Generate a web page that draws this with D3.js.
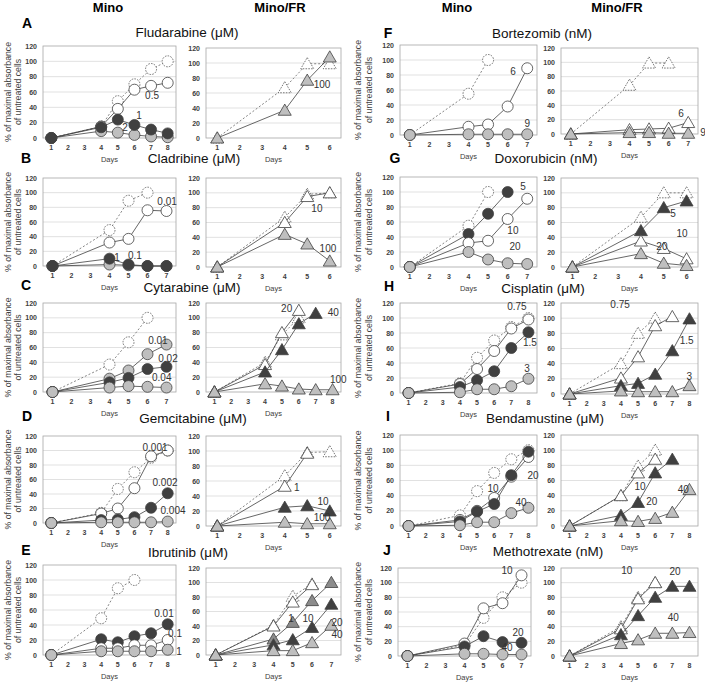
<!DOCTYPE html>
<html lang="en">
<head>
  <meta charset="UTF-8">
  <title>Drug response of Mino and Mino/FR cells</title>
  <script src="https://d3js.org/d3.v7.min.js"></script>
  <style>
      body { margin: 0; background: #fff; }
      svg { display: block; font-family: Arial, "Liberation Sans", sans-serif; }
      .grid line { stroke: #d9d9d9; stroke-width: 0.8px; }
      .frame { fill: none; stroke: #a6a6a6; stroke-width: 0.8px; }
      .tick-label { font-size: 7px; font-weight: bold; fill: #404040; }
      .days { font-size: 7.5px; fill: #404040; }
      .ytitle { font-size: 8.7px; fill: #404040; }
      .title { font-size: 13.5px; fill: #111; }
      .letter { font-size: 14px; font-weight: bold; fill: #000; }
      .header { font-size: 13px; font-weight: bold; fill: #000; }
      .dose { font-size: 10px; fill: #333; }
  </style>
</head>
<body>
<svg width="705" height="682"></svg>
<script>
  // days on which absorbance was measured
  const d8 = [1, 4, 5, 6, 7, 8];
  const d7 = [1, 4, 5, 6, 7];
  const d6 = [1, 4, 5, 6];
  const d5 = [1, 4, 5];

  // A  Fludarabine
  const fluMinoCtrl = [0, 15, 48, 70, 90, 100];
  const fluMino05 = [0, 15, 38, 63, 68, 72];
  const fluMino1 = [0, 14, 24, 17, 11, 6];
  const fluMino2 = [0, 9, 7, 4, 2, 1];
  const fluFrCtrl = [0, 67, 99, 99];
  const fluFr100 = [0, 37, 77, 108];

  // B  Cladribine
  const claMinoCtrl = [0, 49, 89, 100];
  const claMino001 = [0, 32, 37, 76, 75];
  const claMino01 = [0, 10, 2, 0, 0];
  const claMino1 = [0, 2, 1, 0, 0];
  const claFrCtrl = [0, 67, 98, 100];
  const claFr10 = [0, 60, 95, 100];
  const claFr100 = [0, 44, 31, 8];

  // C  Cytarabine
  const cytMinoCtrl = [0, 37, 67, 100];
  const cytMino001 = [0, 18, 29, 51, 64];
  const cytMino002 = [0, 13, 19, 31, 34];
  const cytMino004 = [0, 6, 8, 7, 6];
  const cytFrCtrl = [0, 40, 77, 100];
  const cytFr20 = [0, 37, 80, 110];
  const cytFr40 = [0, 27, 57, 92, 106];
  const cytFr100 = [0, 11, 8, 4, 3, 3];

  // D  Gemcitabine
  const gemMinoCtrl = [0, 14, 47, 70, 90, 100];
  const gemMino0001 = [0, 13, 20, 48, 92, 100];
  const gemMino0002 = [0, 4, 5, 8, 21, 41];
  const gemMino0004 = [0, 1, 1, 1, 1, 2];
  const gemFrCtrl = [0, 67, 98, 99];
  const gemFr1 = [0, 53, 97];
  const gemFr10 = [0, 25, 27, 20];
  const gemFr100 = [0, 5, 3, 3];

  // E  Ibrutinib
  const ibrMinoCtrl = [0, 49, 89, 100];
  const ibrMino001 = [0, 21, 17, 25, 29, 41];
  const ibrMino01 = [0, 9, 9, 13, 13, 20];
  const ibrMino1 = [0, 5, 5, 5, 5, 7];
  const ibrFrCtrl = [0, 41, 81, 98];
  const ibrFr1 = [0, 40, 73, 97];
  const ibrFr10 = [0, 22, 45, 75, 100];
  const ibrFr20 = [0, 14, 21, 38, 70];
  const ibrFr40 = [0, 6, 6, 17, 41];

  // F  Bortezomib
  const borMinoCtrl = [0, 55, 100];
  const borMino6 = [0, 11, 14, 38, 89];
  const borMino9 = [0, 1, 1, 1, 1];
  const borFrCtrl = [0, 68, 99, 99];
  const borFr6 = [0, 6, 7, 8, 16];
  const borFr9 = [0, 2, 2, 1, 1];

  // G  Doxorubicin
  const doxMinoCtrl = [0, 55, 100];
  const doxMino5 = [0, 44, 71, 100];
  const doxMino10 = [0, 32, 35, 64, 91];
  const doxMino20 = [0, 20, 10, 5, 4];
  const doxFrCtrl = [0, 67, 100, 100];
  const doxFr5 = [0, 49, 80, 89];
  const doxFr10 = [0, 35, 25, 11];
  const doxFr20 = [0, 18, 5, 2];

  // H  Cisplatin
  const cisMinoCtrl = [0, 13, 47, 70, 88, 100];
  const cisMino075 = [0, 12, 32, 56, 86, 98];
  const cisMino15 = [0, 8, 17, 29, 60, 81];
  const cisMino3 = [0, 1, 5, 5, 9, 19];
  const cisFrCtrl = [0, 40, 80, 100];
  const cisFr075 = [0, 21, 49, 90, 102];
  const cisFr15 = [0, 11, 14, 26, 57, 99];
  const cisFr3 = [0, 4, 3, 3, 3, 11];

  // I  Bendamustine
  const benMinoCtrl = [0, 14, 46, 70, 88, 100];
  const benMino10 = [0, 8, 20, 37, 65, 91];
  const benMino20 = [0, 6, 19, 29, 67, 98];
  const benMino40 = [0, 1, 5, 5, 17, 24];
  const benFrCtrl = [0, 40, 79, 100];
  const benFr10 = [0, 40, 70, 88];
  const benFr20 = [0, 14, 31, 70, 88];
  const benFr40 = [0, 7, 6, 10, 18, 48];

  // J  Methotrexate
  const metMinoCtrl = [0, 15, 52, 80, 100];
  const metMino10 = [0, 17, 65, 72, 110];
  const metMino20 = [0, 13, 27, 19, 18];
  const metMino40 = [0, 3, 3, 2, 2];
  const metFrCtrl = [0, 40, 80, 100];
  const metFr10 = [0, 37, 78, 100];
  const metFr20 = [0, 29, 55, 80, 95, 95];
  const metFr40 = [0, 17, 22, 31, 31, 32];

  const yTicks = [0, 20, 40, 60, 80, 100, 120];

  // series: [days, values, kind]; labels: [text, day, value]
  const panels = [
    {letter: "A", title: "Fludarabine (μM)", half: 0,
      mino: {n: 8, series: [[d8, fluMinoCtrl, "ctrl"], [d8, fluMino05, "open"], [d8, fluMino2, "light"], [d8, fluMino1, "dark"]],
        labels: [["0.5", 7.06, 56], ["1", 6.27, 28.7], ["2", 5.43, 14.3]]},
      fr: {n: 6, series: [[d6, fluFrCtrl, "ctrl"], [d6, fluFr100, "light"]],
        labels: [["100", 5.66, 70.7]]}},
    {letter: "B", title: "Cladribine (μM)", half: 0,
      mino: {n: 7, series: [[d6, claMinoCtrl, "ctrl"], [d7, claMino001, "open"], [d7, claMino1, "light"], [d7, claMino01, "dark"]],
        labels: [["0.01", 7.03, 88.6], ["1", 4.39, 11.9], ["0.1", 5.34, 15]]},
      fr: {n: 6, series: [[d6, claFrCtrl, "ctrl"], [d6, claFr10, "open"], [d6, claFr100, "light"]],
        labels: [["10", 5.43, 79.5], ["100", 5.92, 25.6]]}},
    {letter: "C", title: "Cytarabine (μM)", half: 0,
      mino: {n: 7, series: [[d6, cytMinoCtrl, "ctrl"], [d7, cytMino001, "light"], [d7, cytMino002, "dark"], [d7, cytMino004, "light"]],
        labels: [["0.01", 6.55, 70], ["0.02", 7.08, 45.8], ["0.04", 6.75, 19.8]]},
      fr: {n: 8, series: [[d6, cytFrCtrl, "ctrl"], [d6, cytFr20, "open"], [d7, cytFr40, "dark"], [d8, cytFr100, "light"]],
        labels: [["20", 5.28, 112.8], ["40", 8.04, 106.9], ["100", 8.34, 16.2]]}},
    {letter: "D", title: "Gemcitabine (μM)", half: 0,
      mino: {n: 8, series: [[d8, gemMinoCtrl, "ctrl"], [d8, gemMino0001, "open"], [d8, gemMino0002, "dark"], [d8, gemMino0004, "light"]],
        labels: [["0.001", 7.24, 104.8], ["0.002", 7.84, 56.5], ["0.004", 8.32, 17.9]]},
      fr: {n: 6, series: [[d6, gemFrCtrl, "ctrl"], [d5, gemFr1, "open"], [d6, gemFr10, "dark"], [d6, gemFr100, "light"]],
        labels: [["1", 4.54, 52], ["10", 5.7, 33.3], ["100", 5.66, 12]]}},
    {letter: "E", title: "Ibrutinib (μM)", half: 0,
      mino: {n: 8, series: [[d6, ibrMinoCtrl, "ctrl"], [d8, ibrMino001, "dark"], [d8, ibrMino01, "open"], [d8, ibrMino1, "light"]],
        labels: [["0.01", 7.78, 56], ["0.1", 8.44, 29.3], ["1", 8.68, 4.4]]},
      fr: {n: 7, series: [[d6, ibrFrCtrl, "ctrl"], [d6, ibrFr1, "open"], [d7, ibrFr10, "mid"], [d7, ibrFr20, "dark"], [d7, ibrFr40, "light"]],
        labels: [["1", 4.91, 51], ["10", 5.79, 51], ["20", 7.29, 45.5], ["40", 7.29, 27.6]]}},
    {letter: "F", title: "Bortezomib (nM)", half: 1,
      mino: {n: 7, series: [[d5, borMinoCtrl, "ctrl"], [d7, borMino6, "open"], [d7, borMino9, "light"]],
        labels: [["6", 6.27, 85.3], ["9", 7.0, 14.7]]},
      fr: {n: 7, series: [[d6, borFrCtrl, "ctrl"], [d7, borFr6, "open"], [d7, borFr9, "light"]],
        labels: [["6", 6.63, 29.3], ["9", 7.76, 1.4]]}},
    {letter: "G", title: "Doxorubicin (nM)", half: 1,
      mino: {n: 7, series: [[d5, doxMinoCtrl, "ctrl"], [d6, doxMino5, "dark"], [d7, doxMino10, "open"], [d7, doxMino20, "light"]],
        labels: [["5", 6.78, 106.7], ["10", 6.27, 49.3], ["20", 6.38, 28]]},
      fr: {n: 6, series: [[d6, doxFrCtrl, "ctrl"], [d6, doxFr5, "dark"], [d6, doxFr10, "open"], [d6, doxFr20, "light"]],
        labels: [["5", 5.41, 72.8], ["10", 5.8, 45.8], ["20", 4.92, 28.3]]}},
    {letter: "H", title: "Cisplatin (μM)", half: 1,
      mino: {n: 8, series: [[d8, cisMinoCtrl, "ctrl"], [d8, cisMino075, "open"], [d8, cisMino15, "dark"], [d8, cisMino3, "light"]],
        labels: [["0.75", 7.33, 114.7], ["1.5", 8.09, 66.7], ["3", 7.92, 33.3]]},
      fr: {n: 8, series: [[d6, cisFrCtrl, "ctrl"], [d7, cisFr075, "open"], [d8, cisFr15, "dark"], [d8, cisFr3, "light"]],
        labels: [["0.75", 3.95, 118], ["1.5", 7.84, 71.2], ["3", 7.99, 23.7]]}},
    {letter: "I", title: "Bendamustine (μM)", half: 1,
      mino: {n: 8, series: [[d8, benMinoCtrl, "ctrl"], [d8, benMino10, "open"], [d8, benMino20, "dark"], [d8, benMino40, "light"]],
        labels: [["10", 5.93, 48.8], ["20", 8.27, 66], ["40", 7.57, 30.7]]},
      fr: {n: 8, series: [[d6, benFrCtrl, "ctrl"], [d6, benFr10, "open"], [d7, benFr20, "dark"], [d8, benFr40, "light"]],
        labels: [["10", 5.11, 51.8], ["20", 5.8, 32], ["40", 7.64, 48.4]]}},
    {letter: "J", title: "Methotrexate (nM)", half: 1,
      mino: {n: 7, series: [[d7, metMinoCtrl, "ctrl"], [d7, metMino10, "open"], [d7, metMino20, "dark"], [d7, metMino40, "light"]],
        labels: [["10", 6.24, 116], ["20", 6.82, 32.7], ["40", 6.24, 11.3]]},
      fr: {n: 8, series: [[d6, metFrCtrl, "ctrl"], [d6, metFr10, "open"], [d8, metFr20, "dark"], [d8, metFr40, "light"]],
        labels: [["10", 4.34, 116], ["20", 7.16, 114.6], ["40", 7.06, 52.2]]}}
  ];

  // page layout
  const halves = [
    {mino: [43, 176], fr: [206, 341], yTitle: [8, 18], heads: [108, 280]},
    {mino: [400, 537], fr: [561, 698], yTitle: [358, 369], heads: [457, 617]}
  ];
  const layout = {
    A: {letterPos: [27, 23], titlePos: [187, 32], mino: [46, 138], fr: [48, 138]},
    B: {letterPos: [26, 158], titlePos: [194, 158], mino: [178, 266], fr: [178, 267]},
    C: {letterPos: [26, 285], titlePos: [192, 287], mino: [303, 392], fr: [303, 392]},
    D: {letterPos: [27, 416], titlePos: [193, 418], mino: [436, 523], fr: [436, 526]},
    E: {letterPos: [26, 550], titlePos: [188, 552], mino: [565, 655], fr: [568, 655]},
    F: {letterPos: [388, 33], titlePos: [542, 33], mino: [45, 135], fr: [48, 134]},
    G: {letterPos: [395, 158], titlePos: [546, 158], mino: [177, 267], fr: [178, 267]},
    H: {letterPos: [389, 286], titlePos: [543, 288], mino: [303, 393], fr: [303, 394]},
    I: {letterPos: [388, 416], titlePos: [545, 418], mino: [435, 526], fr: [435, 526]},
    J: {letterPos: [387, 550], titlePos: [548, 551], mino: [568, 656], fr: [568, 656], minoX: [398, 531]}
  };

  const fills = {ctrl: "#ffffff", open: "#ffffff", dark: "#404040", mid: "#8c8c8c", light: "#bfbfbf"};
  const triangle = "M0,-6.2L6.5,5L-6.5,5Z";

  const svg = d3.select("svg");

  halves.forEach(h => {
    svg.append("text").attr("class", "header").attr("x", h.heads[0]).attr("y", 7)
    .attr("text-anchor", "middle").attr("dominant-baseline", "central").text("Mino");
    svg.append("text").attr("class", "header").attr("x", h.heads[1]).attr("y", 7)
    .attr("text-anchor", "middle").attr("dominant-baseline", "central").text("Mino/FR");
  });

  function drawPanel(cfg, xr, yr, shape) {
    const x = d3.scaleLinear().domain([0.5, cfg.n + 0.5]).range(xr);
    const y = d3.scaleLinear().domain([0, 120]).range([yr[1], yr[0]]);
    const g = svg.append("g");

    g.append("g")
    .attr("class", "grid")
    .selectAll("line")
    .data(yTicks.slice(1, -1))
    .enter().append("line")
    .attr("x1", xr[0]).attr("x2", xr[1])
    .attr("y1", d => y(d)).attr("y2", d => y(d));

    g.append("rect")
    .attr("class", "frame")
    .attr("x", xr[0]).attr("y", y(120))
    .attr("width", xr[1] - xr[0]).attr("height", y(0) - y(120));

    g.append("g")
    .selectAll("text")
    .data(yTicks)
    .enter().append("text")
    .attr("class", "tick-label")
    .attr("x", xr[0] - 6).attr("y", d => y(d))
    .attr("text-anchor", "end").attr("dominant-baseline", "central")
    .text(d => d);

    g.append("g")
    .selectAll("text")
    .data(d3.range(1, cfg.n + 1))
    .enter().append("text")
    .attr("class", "tick-label")
    .attr("x", d => x(d)).attr("y", y(0) + 9.5)
    .attr("text-anchor", "middle").attr("dominant-baseline", "central")
    .text(d => d);

    g.append("text")
    .attr("class", "days")
    .attr("x", (xr[0] + xr[1]) / 2).attr("y", y(0) + 21)
    .attr("text-anchor", "middle").attr("dominant-baseline", "central")
    .text("Days");

    const line = d3.line().x(d => x(d[0])).y(d => y(d[1]));

    cfg.series.forEach(([days, vals, kind]) => {
      const pts = days.map((d, i) => [d, vals[i]]);
      const isCtrl = kind === "ctrl";

      g.append("path")
      .datum(pts)
      .attr("d", line)
      .attr("fill", "none")
      .attr("stroke", isCtrl ? "#666" : "#404040")
      .attr("stroke-width", 0.8)
      .attr("stroke-dasharray", isCtrl ? "2,2" : null);

      const marks = shape === "circle"
        ? g.append("g").selectAll("circle").data(pts).enter().append("circle")
          .attr("cx", d => x(d[0])).attr("cy", d => y(d[1])).attr("r", 5.5)
        : g.append("g").selectAll("path").data(pts).enter().append("path")
          .attr("d", triangle)
          .attr("transform", d => `translate(${x(d[0])},${y(d[1])})`);

      marks
      .attr("fill", fills[kind])
      .attr("stroke", isCtrl ? "#555" : "#404040")
      .attr("stroke-width", 0.8)
      .attr("stroke-dasharray", isCtrl ? "1.6,1.2" : null);
    });

    g.append("g")
    .selectAll("text")
    .data(cfg.labels)
    .enter().append("text")
    .attr("class", "dose")
    .attr("x", d => x(d[1])).attr("y", d => y(d[2]))
    .attr("text-anchor", "middle").attr("dominant-baseline", "central")
    .text(d => d[0]);
  }

  panels.forEach(p => {
    const h = halves[p.half];
    const lay = layout[p.letter];

    svg.append("text").attr("class", "letter")
    .attr("x", lay.letterPos[0]).attr("y", lay.letterPos[1])
    .attr("text-anchor", "middle").attr("dominant-baseline", "central")
    .text(p.letter);

    svg.append("text").attr("class", "title")
    .attr("x", lay.titlePos[0]).attr("y", lay.titlePos[1])
    .attr("text-anchor", "middle").attr("dominant-baseline", "central")
    .text(p.title);

    const cy = (lay.mino[0] + lay.mino[1]) / 2;
    [["% of maximal absorbance", h.yTitle[0]], ["of untreated cells", h.yTitle[1]]].forEach(([t, tx]) => {
      svg.append("text").attr("class", "ytitle")
      .attr("transform", `translate(${tx},${cy}) rotate(-90)`)
      .attr("text-anchor", "middle").attr("dominant-baseline", "central")
      .text(t);
    });

    drawPanel(p.mino, lay.minoX || h.mino, lay.mino, "circle");
    drawPanel(p.fr, h.fr, lay.fr, "triangle");
  });
</script>
</body>
</html>
